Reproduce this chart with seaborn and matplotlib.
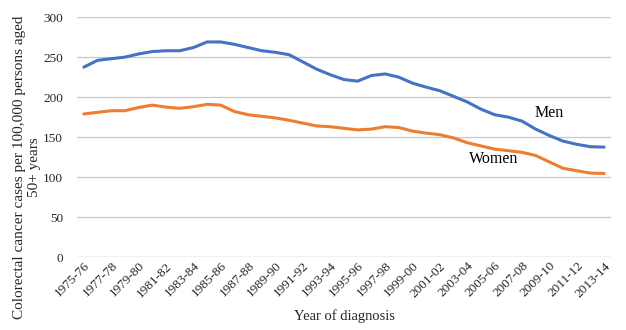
import matplotlib
matplotlib.use("Agg")
import matplotlib.pyplot as plt
import seaborn as sns
import pandas as pd

years = [f"{y}-{str(y + 1)[-2:]}" for y in range(1975, 2014)]
men = [237.5, 246, 248, 250, 254, 257, 258, 258, 262, 269, 269, 266, 262, 258, 256,
       253, 244, 235, 228, 222, 220, 227, 229, 225, 217.5, 212.5, 208, 201, 194, 185,
       178, 175, 170, 160, 152, 145, 141, 138, 137.5]
women = [179, 181, 183, 183, 187, 190, 187.5, 186, 188, 191, 190, 182, 178, 176, 174,
         171, 167.5, 164, 163, 161, 159, 160, 163, 162, 157.5, 155, 153, 149, 143, 139,
         135, 133, 131, 127, 119, 111, 108, 105, 104.5]
series_names = ["Men", "Women"]
colors = ["#4472C4", "#ED7D31"]

df = pd.DataFrame({
    "period": years * 2,
    "rate": men + women,
    "sex": ["Men"] * len(years) + ["Women"] * len(years),
})

sns.set_theme(style="white")
plt.rcParams["font.family"] = ["Liberation Serif", "DejaVu Serif"]

fig = plt.figure(figsize=(6.26, 3.3), dpi=100)
ax = fig.add_axes([0.123, 0.221, 0.853, 0.727])

sns.lineplot(data=df, x="period", y="rate", hue="sex", palette=colors,
             hue_order=series_names, linewidth=2.2, legend=False, ax=ax, sort=False)

ax.set_xlim(-0.5, len(years) - 0.5)
ax.set_ylim(0, 300)
ax.set_yticks(range(0, 301, 50))
ax.yaxis.grid(True, color="#c8c8c8", linewidth=0.9)
ax.set_axisbelow(True)
for s in ax.spines.values():
    s.set_visible(False)
ax.axhline(0, color="#c8c8c8", linewidth=0.9, zorder=0)

ax.set_xticks(range(0, len(years), 2))
ax.set_xticklabels(years[::2], rotation=45, ha="right", rotation_mode="anchor",
                   fontsize=9.5)
ax.tick_params(axis="y", labelsize=9.5, length=0, pad=10)
ax.tick_params(axis="x", length=0, pad=2)

ax.set_xlabel("Year of diagnosis", fontsize=10.5, labelpad=7)
ax.set_ylabel("Colorectal cancer cases per 100,000 persons aged\n50+ years",
              fontsize=11)
ax.yaxis.set_label_coords(-0.068, 0.375)

ax.text(32.9, 180, "Men", fontsize=11.5, ha="left", va="center", color="black")
ax.text(28.1, 123, "Women", fontsize=11.5, ha="left", va="center", color="black")

fig.savefig("out.png", dpi=100)
